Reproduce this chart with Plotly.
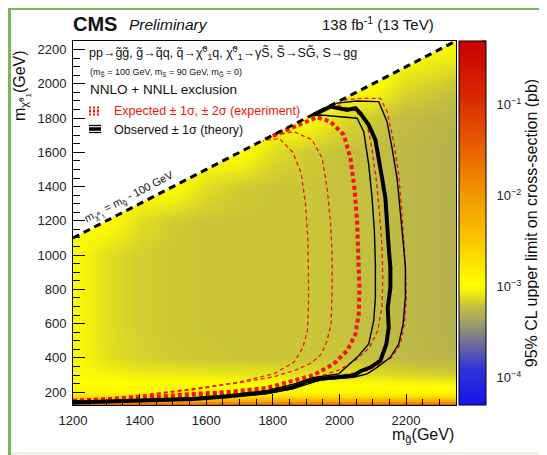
import plotly.graph_objects as go
import math

# page (screenshot) geometry; the html body adds an 8px offset
W, H = 547, 455
BODY = 8
PL, PR, PT, PB = 73, 456, 41, 405   # plot area in page pixels
CB_X0, CB_X1 = 459, 486             # colour bar in page pixels

X_RANGE = [1200, 2350]
Y_RANGE = [125, 2250]
DIAG_OFFSET = 100   # m_chi = m_gluino - 100 GeV

# ---- heat map of log10(95% CL upper limit [pb]) ----
mg_nodes = [1200, 1300, 1400, 1500, 1600, 1700, 1800, 1900, 2000, 2100, 2200, 2350]
mchi_nodes = [125, 150, 175, 200, 250, 300, 400, 600, 800, 1000, 1200, 1400, 1600, 1800, 2000, 2250]
log_limit = [
    [-1.3, -1.3, -1.3, -1.3, -1.3, -1.3, -1.3, -1.3, -1.3, -1.3, -1.3, -1.3],
    [-2.2, -2.2, -2.2, -2.2, -2.2, -2.2, -2.2, -2.2, -2.2, -2.2, -2.2, -2.2],
    [-2.7, -2.7, -2.7, -2.7, -2.7, -2.7, -2.7, -2.7, -2.7, -2.7, -2.7, -2.7],
    [-2.9, -2.9, -2.9, -2.9, -2.9, -2.9, -2.9, -2.9, -2.9, -2.9, -2.9, -2.9],
    [-2.97, -2.97, -2.97, -2.97, -2.97, -2.98, -2.98, -2.98, -2.99, -3.0, -3.01, -3.03],
    [-2.99, -3.04, -3.06, -3.07, -3.08, -3.09, -3.1, -3.1, -3.11, -3.12, -3.14, -3.17],
    [-3.0, -3.11, -3.16, -3.18, -3.19, -3.2, -3.2, -3.2, -3.2, -3.22, -3.25, -3.28],
    [-3.0, -3.12, -3.17, -3.19, -3.2, -3.2, -3.2, -3.2, -3.21, -3.23, -3.26, -3.29],
    [-3.0, -3.12, -3.17, -3.19, -3.2, -3.2, -3.2, -3.2, -3.21, -3.23, -3.26, -3.29],
    [-3.0, -3.12, -3.17, -3.19, -3.2, -3.2, -3.2, -3.2, -3.21, -3.23, -3.26, -3.29],
    [-2.98, -2.98, -3.12, -3.18, -3.2, -3.2, -3.2, -3.2, -3.21, -3.23, -3.26, -3.29],
    [-2.98, -2.98, -2.98, -2.98, -3.12, -3.18, -3.2, -3.2, -3.21, -3.23, -3.26, -3.29],
    [-2.98, -2.98, -2.98, -2.98, -2.98, -2.98, -3.12, -3.18, -3.21, -3.23, -3.26, -3.29],
    [-2.98, -2.98, -2.98, -2.98, -2.98, -2.98, -2.98, -2.98, -3.12, -3.19, -3.24, -3.28],
    [-2.98, -2.98, -2.98, -2.98, -2.98, -2.98, -2.98, -2.98, -2.98, -2.98, -3.12, -3.2],
    [-2.98, -2.98, -2.98, -2.98, -2.98, -2.98, -2.98, -2.98, -2.98, -2.98, -2.98, -3.0],
]
Z_MIN, Z_MAX = -4.3, -0.3

# ---- exclusion contours (m_gluino, m_chi) ----
obs_mg = [1200, 1360, 1560, 1660, 1780, 1860, 1900, 1944, 2003, 2043, 2063, 2093, 2123, 2141, 2148, 2145, 2153, 2153, 2148, 2143, 2138, 2128, 2118, 2108, 2088, 2063, 2048, 2023, 1973, 1923]
obs_mchi = [140, 150, 160, 175, 198, 228, 262, 278, 287, 297, 322, 345, 384, 481, 578, 694, 810, 927, 1043, 1198, 1334, 1450, 1566, 1673, 1760, 1828, 1858, 1847, 1867, 1820]

obs_m1_mg = [1200, 1360, 1560, 1660, 1780, 1860, 1920, 1998, 2053, 2088, 2103, 2108, 2108, 2105, 2098, 2088, 2073, 2053, 1943, 1915]
obs_m1_mchi = [143, 154, 166, 182, 208, 245, 285, 307, 403, 481, 617, 752, 946, 1140, 1334, 1527, 1721, 1799, 1818, 1813]

obs_p1_mg = [1200, 1360, 1560, 1660, 1780, 1860, 1944, 2043, 2083, 2113, 2153, 2178, 2191, 2198, 2198, 2193, 2183, 2173, 2158, 2143, 2118, 2050, 1988]
obs_p1_mchi = [138, 147, 156, 170, 192, 220, 272, 287, 307, 345, 403, 481, 597, 752, 927, 1043, 1237, 1450, 1624, 1779, 1896, 1900, 1886]

exp_mg = [1200, 1360, 1543, 1663, 1783, 1853, 1923, 1983, 2023, 2048, 2058, 2060, 2058, 2053, 2045, 2033, 2013, 1973, 1933, 1880, 1823, 1790]
exp_mchi = [148, 160, 188, 200, 225, 262, 300, 365, 442, 539, 655, 810, 1004, 1198, 1392, 1566, 1702, 1779, 1805, 1760, 1710, 1688]

exp_m1_mg = [1200, 1360, 1500, 1623, 1700, 1803, 1870, 1915, 1945, 1963, 1975, 1978, 1978, 1973, 1963, 1948, 1918, 1863, 1800]
exp_m1_mchi = [155, 172, 205, 236, 255, 290, 330, 370, 420, 500, 600, 810, 1004, 1198, 1392, 1566, 1673, 1721, 1698]

exp_m2_mg = [1200, 1300, 1450, 1583, 1700, 1803, 1863, 1890, 1904, 1907, 1907, 1905, 1898, 1885, 1860, 1820, 1770]
exp_m2_mchi = [158, 166, 190, 220, 260, 307, 374, 460, 559, 700, 900, 1100, 1300, 1480, 1600, 1680, 1668]

exp_p1_mg = [1200, 1360, 1543, 1663, 1783, 1863, 1950, 2000, 2050, 2090, 2115, 2128, 2130, 2128, 2120, 2110, 2095, 2080, 2040, 1985]
exp_p1_mchi = [145, 156, 176, 190, 213, 248, 298, 330, 390, 460, 560, 700, 850, 1050, 1250, 1450, 1650, 1790, 1850, 1882]

exp_p2_mg = [1200, 1360, 1543, 1663, 1783, 1863, 1944, 2000, 2083, 2123, 2158, 2183, 2195, 2201, 2198, 2188, 2178, 2163, 2143, 2123, 2060, 2005]
exp_p2_mchi = [140, 148, 158, 172, 195, 232, 282, 296, 326, 365, 403, 481, 597, 752, 946, 1237, 1469, 1663, 1838, 1915, 1915, 1903]

# colour bar ticks
cb_decades = [-4, -3, -2, -1]

FONT = "Liberation Sans, Arial, Helvetica, sans-serif"
RED = "rgb(240,20,20)"


def px(xp):
    return (xp - PL) / (PR - PL)


def py(yp):
    return (PB - yp) / (PB - PT)


colorscale = [
    [0.00, "rgb(20,20,235)"],
    [0.10, "rgb(50,50,215)"],
    [0.17, "rgb(110,110,150)"],
    [0.22, "rgb(155,153,110)"],
    [0.27, "rgb(196,192,62)"],
    [0.31, "rgb(242,240,14)"],
    [0.33, "rgb(255,255,0)"],
    [0.45, "rgb(250,200,0)"],
    [0.58, "rgb(242,150,0)"],
    [0.72, "rgb(230,90,0)"],
    [0.85, "rgb(215,40,0)"],
    [1.00, "rgb(200,0,0)"],
]

cb_vals, cb_text, cb_major = [], [], []
for d in range(-5, 0):
    for k in range(1, 10):
        v = d + math.log10(k)
        if Z_MIN <= v <= Z_MAX:
            cb_vals.append(v)
            major = (k == 1 and d in cb_decades)
            cb_major.append(major)
            cb_text.append("10<sup>\u2212%d</sup>" % (-d) if major else "")

fig = go.Figure()
fig.add_trace(go.Heatmap(
    x=mg_nodes, y=mchi_nodes, z=log_limit, zsmooth="best",
    colorscale=colorscale, zmin=Z_MIN, zmax=Z_MAX, hoverinfo="skip",
    colorbar=dict(
        x=px(CB_X0), xanchor="left", xpad=0, y=0.5, yanchor="middle", ypad=0,
        len=1, lenmode="fraction", thickness=CB_X1 - CB_X0, thicknessmode="pixels",
        outlinewidth=1, outlinecolor="black",
        tickmode="array", tickvals=[v for v, m in zip(cb_vals, cb_major) if m],
        ticktext=[t for t, m in zip(cb_text, cb_major) if m],
        ticks="outside", ticklen=8, tickcolor="rgba(0,0,0,0)", tickwidth=1,
        tickfont=dict(family=FONT, size=13, color="#222"),
        title=dict(text="95% CL upper limit on cross-section (pb)", side="right",
                   font=dict(family=FONT, size=16, color="#111")),
    ),
))

# blank region above the kinematic boundary
fig.add_trace(go.Scatter(
    x=[X_RANGE[0], X_RANGE[1], X_RANGE[0], X_RANGE[0]],
    y=[X_RANGE[0] - DIAG_OFFSET, X_RANGE[1] - DIAG_OFFSET, Y_RANGE[1], X_RANGE[0] - DIAG_OFFSET],
    mode="lines", fill="toself", fillcolor="white", line=dict(width=0, color="white"),
    hoverinfo="skip", showlegend=False,
))


def add_curve(xs, ys, color, width, dash):
    fig.add_trace(go.Scatter(x=xs, y=ys, mode="lines",
                             line=dict(color=color, width=width, dash=dash),
                             hoverinfo="skip", showlegend=False))


add_curve(exp_m2_mg, exp_m2_mchi, RED, 1.3, "4px,3px")
add_curve(exp_m1_mg, exp_m1_mchi, RED, 1.3, "4px,3px")
add_curve(exp_p1_mg, exp_p1_mchi, RED, 1.3, "4px,3px")
add_curve(exp_p2_mg, exp_p2_mchi, RED, 1.3, "4px,3px")
add_curve(exp_mg, exp_mchi, RED, 4, "4px,3px")
add_curve(obs_m1_mg, obs_m1_mchi, "black", 1.4, "solid")
add_curve(obs_p1_mg, obs_p1_mchi, "black", 1.4, "solid")
add_curve(obs_mg, obs_mchi, "black", 4, "solid")

# kinematic boundary
add_curve([X_RANGE[0], X_RANGE[1]], [X_RANGE[0] - DIAG_OFFSET, X_RANGE[1] - DIAG_OFFSET], "black", 3, "7px,5px")

axis_common = dict(
    showline=True, linecolor="black", linewidth=1, mirror=True,
    ticks="inside", tickcolor="black", tickwidth=1,
    showgrid=False, zeroline=False,
    tickfont=dict(family=FONT, size=13, color="#222"),
    ticklabelstandoff=3,
)

FW, FH = W - BODY, H - BODY
fig.update_layout(
    width=FW, height=FH,
    margin=dict(l=PL - BODY, r=FW - (PR - BODY), t=PT - BODY, b=FH - (PB - BODY), pad=0, autoexpand=False),
    paper_bgcolor="white", plot_bgcolor="white",
    showlegend=False,
    xaxis=dict(range=X_RANGE, tick0=1200, dtick=200, ticklen=11,
               minor=dict(dtick=50, ticks="inside", ticklen=6, tickcolor="black"),
               **axis_common),
    yaxis=dict(range=Y_RANGE, tick0=0, dtick=200, ticklen=12,
               minor=dict(dtick=50, ticks="inside", ticklen=7, tickcolor="black"),
               **axis_common),
)

ann = []


def text(x, y, s, size, xanchor="left", yanchor="middle", color="#111", angle=0, xref="paper", yref="paper"):
    ann.append(dict(x=x, y=y, xref=xref, yref=yref, text=s, showarrow=False,
                    xanchor=xanchor, yanchor=yanchor, textangle=angle,
                    font=dict(family=FONT, size=size, color=color)))


text(px(71), py(24), "<b>CMS</b>", 20)
text(px(127), py(25), "<i>Preliminary</i>", 15.5)
text(px(436), py(24), "138 fb<sup>-1</sup> (13 TeV)", 15, xanchor="right")
text(px(87), py(53),
     "pp\u2192g\u0303g\u0303, g\u0303\u2192q\u0303q, q\u0303\u2192\u03c7\u0303<sup>0</sup><sub>1</sub>q, "
     "\u03c7\u0303<sup>0</sup><sub>1</sub>\u2192\u03b3S\u0303, S\u0303\u2192SG\u0303, S\u2192gg", 12.5)
text(px(88), py(72), "(m<sub>S\u0303</sub> = 100 GeV, m<sub>S</sub> = 90 GeV, m<sub>G\u0303</sub> = 0)", 9)
text(px(88), py(89), "NNLO + NNLL exclusion", 13.5)
text(px(112), py(111), "Expected \u00b1 1\u03c3, \u00b1 2\u03c3 (experiment)", 12.5, color=RED)
text(px(112), py(130), "Observed \u00b1 1\u03c3 (theory)", 12.5)
text(1370, 1336, "m<sub>\u03c7\u0303<sup>0</sup><sub>1</sub></sub> = m<sub>g\u0303</sub> - 100 GeV", 11,
     xanchor="center", angle=-27.4, xref="x", yref="y")
text(px(456), py(436), "m<sub>g\u0303</sub>(GeV)", 16, xanchor="right")
text(px(22), py(86), "m<sub>\u03c7\u0303<sup>0</sup><sub>1</sub></sub>(GeV)", 16, xanchor="center", angle=-90)

shapes = []
# colour bar ticks (drawn inward from the right edge of the bar)
for v, m in zip(cb_vals, cb_major):
    yy = (v - Z_MIN) / (Z_MAX - Z_MIN)
    shapes.append(dict(type="line", xref="paper", yref="paper",
                       x0=px(CB_X1), x1=px(CB_X1 - (8 if m else 4)), y0=yy, y1=yy,
                       line=dict(color="black", width=1)))

# legend symbols
for yy, wdt in [(107.5, 1.8), (111, 3), (114.5, 1.8)]:
    shapes.append(dict(type="line", xref="paper", yref="paper", x0=px(89), x1=px(100), y0=py(yy), y1=py(yy),
                       line=dict(color=RED, width=wdt, dash="2px,2px")))
for yy, wdt in [(125.5, 1.3), (129, 3.5), (132.5, 1.3)]:
    shapes.append(dict(type="line", xref="paper", yref="paper", x0=px(89), x1=px(101), y0=py(yy), y1=py(yy),
                       line=dict(color="black", width=wdt)))

# page frame (green border + grey strip at the bottom)
GREY = "#efefea"
GREEN = "#7ab75c"
shapes.append(dict(type="rect", xref="paper", yref="paper", x0=px(BODY), x1=px(W), y0=py(H), y1=py(452),
                   fillcolor=GREY, line=dict(width=0), layer="below"))
shapes.append(dict(type="rect", xref="paper", yref="paper", x0=px(BODY), x1=px(BODY + 3), y0=py(H), y1=py(BODY),
                   fillcolor=GREEN, line=dict(width=0), layer="below"))
shapes.append(dict(type="rect", xref="paper", yref="paper", x0=px(BODY), x1=px(W), y0=py(BODY + 2), y1=py(BODY),
                   fillcolor=GREEN, line=dict(width=0), layer="below"))

fig.update_layout(annotations=ann, shapes=shapes)
fig.write_html("out.html")
